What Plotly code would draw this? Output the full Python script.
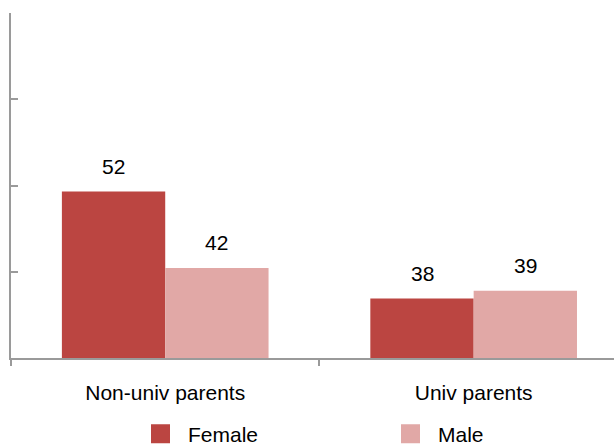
import plotly.graph_objects as go

# Data
categories = ["Non-univ parents", "Univ parents"]
female = [52, 38]
male = [42, 39]
series_names = ["Female", "Male"]
series_colors = ["#BB4541", "#E1A8A6"]

AXIS_COLOR = "#9A9A9A"
FONT = "Liberation Sans, Arial, sans-serif"
BARGAP = 0.33
Y_MIN, Y_MAX, Y_STEP = 30.2, 75.4, 11.3

fig = go.Figure()

values = [female, male]
legend_ids = ["legend", "legend2"]
for name, vals, color, lg in zip(series_names, values, series_colors, legend_ids):
    fig.add_trace(go.Bar(
        x=categories, y=vals, name=name,
        marker=dict(color=color, line=dict(width=0)),
        showlegend=False, hoverinfo="skip",
    ))
    # legend swatch (larger square than the default bar swatch)
    fig.add_trace(go.Scatter(
        x=[None], y=[None], mode="markers", name=name,
        marker=dict(symbol="square", size=16, color=color,
                    line=dict(color=color, width=3)),
        showlegend=True, legend=lg,
    ))

# value labels above each bar, offset to the centre of the bar within its group
bar_w = (1 - BARGAP) / len(values)
annotations = []
for s, vals in enumerate(values):
    off = -(1 - BARGAP) / 2 + bar_w * (s + 0.5)
    for i, v in enumerate(vals):
        annotations.append(dict(
            x=i + off, y=v, xref="x", yref="y", text=str(v),
            showarrow=False, yshift=25, yanchor="middle",
            font=dict(size=21, color="#000000", family=FONT),
        ))

legend_style = dict(
    orientation="h", xref="container", yref="container",
    xanchor="left", y=1 - 434 / 444, yanchor="middle",
    itemwidth=45,
    font=dict(size=21, family=FONT, color="#000000"),
    bgcolor="rgba(0,0,0,0)", borderwidth=0,
)

fig.update_layout(
    width=614, height=444,
    margin=dict(l=11, r=0, t=13, b=86),
    paper_bgcolor="white", plot_bgcolor="white",
    barmode="group", bargap=BARGAP, bargroupgap=0,
    font=dict(family=FONT, size=21, color="#000000"),
    annotations=annotations,
    showlegend=True,
    legend=dict(x=133 / 614, **legend_style),
    legend2=dict(x=383 / 614, **legend_style),
)

fig.update_xaxes(
    type="category", range=[-0.5, 1.455],
    showline=True, linecolor=AXIS_COLOR, linewidth=2,
    tickson="boundaries", ticks="outside", ticklen=6, tickwidth=2,
    tickcolor=AXIS_COLOR, showgrid=False, zeroline=False,
    ticklabelstandoff=15,
    tickfont=dict(size=21, family=FONT, color="#000000"),
)
fig.update_yaxes(
    range=[Y_MIN, Y_MAX], tickmode="linear", tick0=Y_MIN, dtick=Y_STEP,
    showline=True, linecolor=AXIS_COLOR, linewidth=2,
    ticks="inside", ticklen=7, tickwidth=2, tickcolor=AXIS_COLOR,
    showticklabels=False, showgrid=False, zeroline=False,
)

fig.write_html("out.html")
